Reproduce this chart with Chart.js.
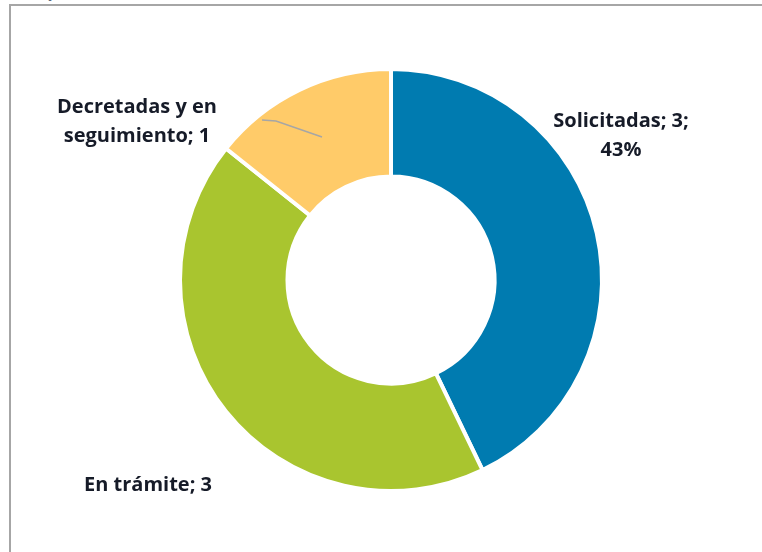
<!DOCTYPE html>
<html>
<head>
<meta charset="utf-8">
<script src="https://cdn.jsdelivr.net/npm/chart.js@4.4.0/dist/chart.umd.min.js"></script>
<style>
  html, body { margin: 0; padding: 0; background: #fff; overflow: hidden; }
  #wrap { position: relative; width: 762px; height: 552px; }
  #frame { position: absolute; left: 9px; top: 4px; width: 760px; height: 600px;
           border-left: 2px solid #a6a6a6; border-top: 2px solid #a6a6a6; box-sizing: border-box; }
  #frag { position: absolute; left: 50px; top: -17px; font: italic 16px "Liberation Serif"; color: #44546a; }
  canvas { position: absolute; left: 0; top: 0; }
</style>
</head>
<body>
<div id="wrap">
  <div id="frame"></div>
  <span id="frag">y</span>
  <canvas id="donut" width="762" height="552"></canvas>
</div>
<script>
// données du graphique
var categorias = ['Solicitadas', 'En trámite', 'Decretadas y en seguimiento'];
var valores = [3, 3, 1];
var colores = ['#007bb0', '#a9c52f', '#ffcb69'];
// étiquettes telles qu'affichées (lignes)
var etiquetas = [
    ['Solicitadas; 3;', '43%'],
    ['En trámite; 3'],
    ['Decretadas y en', 'seguimiento; 1']
];

// position des étiquettes, relative au centre du graphique
var posEtiquetas = [
    { dx: 230, dy: -144 },
    { dx: -243, dy: 205 },
    { dx: -254, dy: -158 }
];

var etiquetasPlugin = {
    id: 'etiquetas',
    afterDatasetsDraw: function(chart) {
        var ctx = chart.ctx;
        var arc = chart.getDatasetMeta(0).data[0];
        var cx = arc.x, cy = arc.y;

        // ligne de rappel dans la part jaune
        ctx.save();
        ctx.strokeStyle = '#a6a6a6';
        ctx.lineWidth = 1.5;
        ctx.beginPath();
        ctx.moveTo(cx - 129, cy - 160);
        ctx.lineTo(cx - 115, cy - 159);
        ctx.lineTo(cx - 69, cy - 143);
        ctx.stroke();

        ctx.fillStyle = '#161b28';
        ctx.font = 'bold 20px "Open Sans"';
        ctx.textAlign = 'center';
        ctx.textBaseline = 'middle';
        etiquetas.forEach(function(lineas, i) {
            var p = posEtiquetas[i];
            var y0 = cy + p.dy - (lineas.length - 1) * 29 / 2;
            lineas.forEach(function(t, j) {
                ctx.fillText(t, cx + p.dx, y0 + j * 29);
            });
        });
        ctx.restore();
    }
};

var ctx = document.getElementById('donut').getContext('2d');
var donutChart = new Chart(ctx, {
    type: 'doughnut',
    data: {
        labels: categorias,
        datasets: [{
            data: valores,
            backgroundColor: colores,
            borderColor: '#ffffff',
            borderWidth: 4,
            hoverOffset: 0
        }]
    },
    options: {
        responsive: false,
        animation: false,
        radius: 211,
        cutout: 105,
        layout: { padding: { left: 170, right: 150, top: 64, bottom: 56 } },
        plugins: {
            legend: { display: false },
            tooltip: { enabled: false }
        }
    },
    plugins: [etiquetasPlugin]
});
</script>
</body>
</html>
